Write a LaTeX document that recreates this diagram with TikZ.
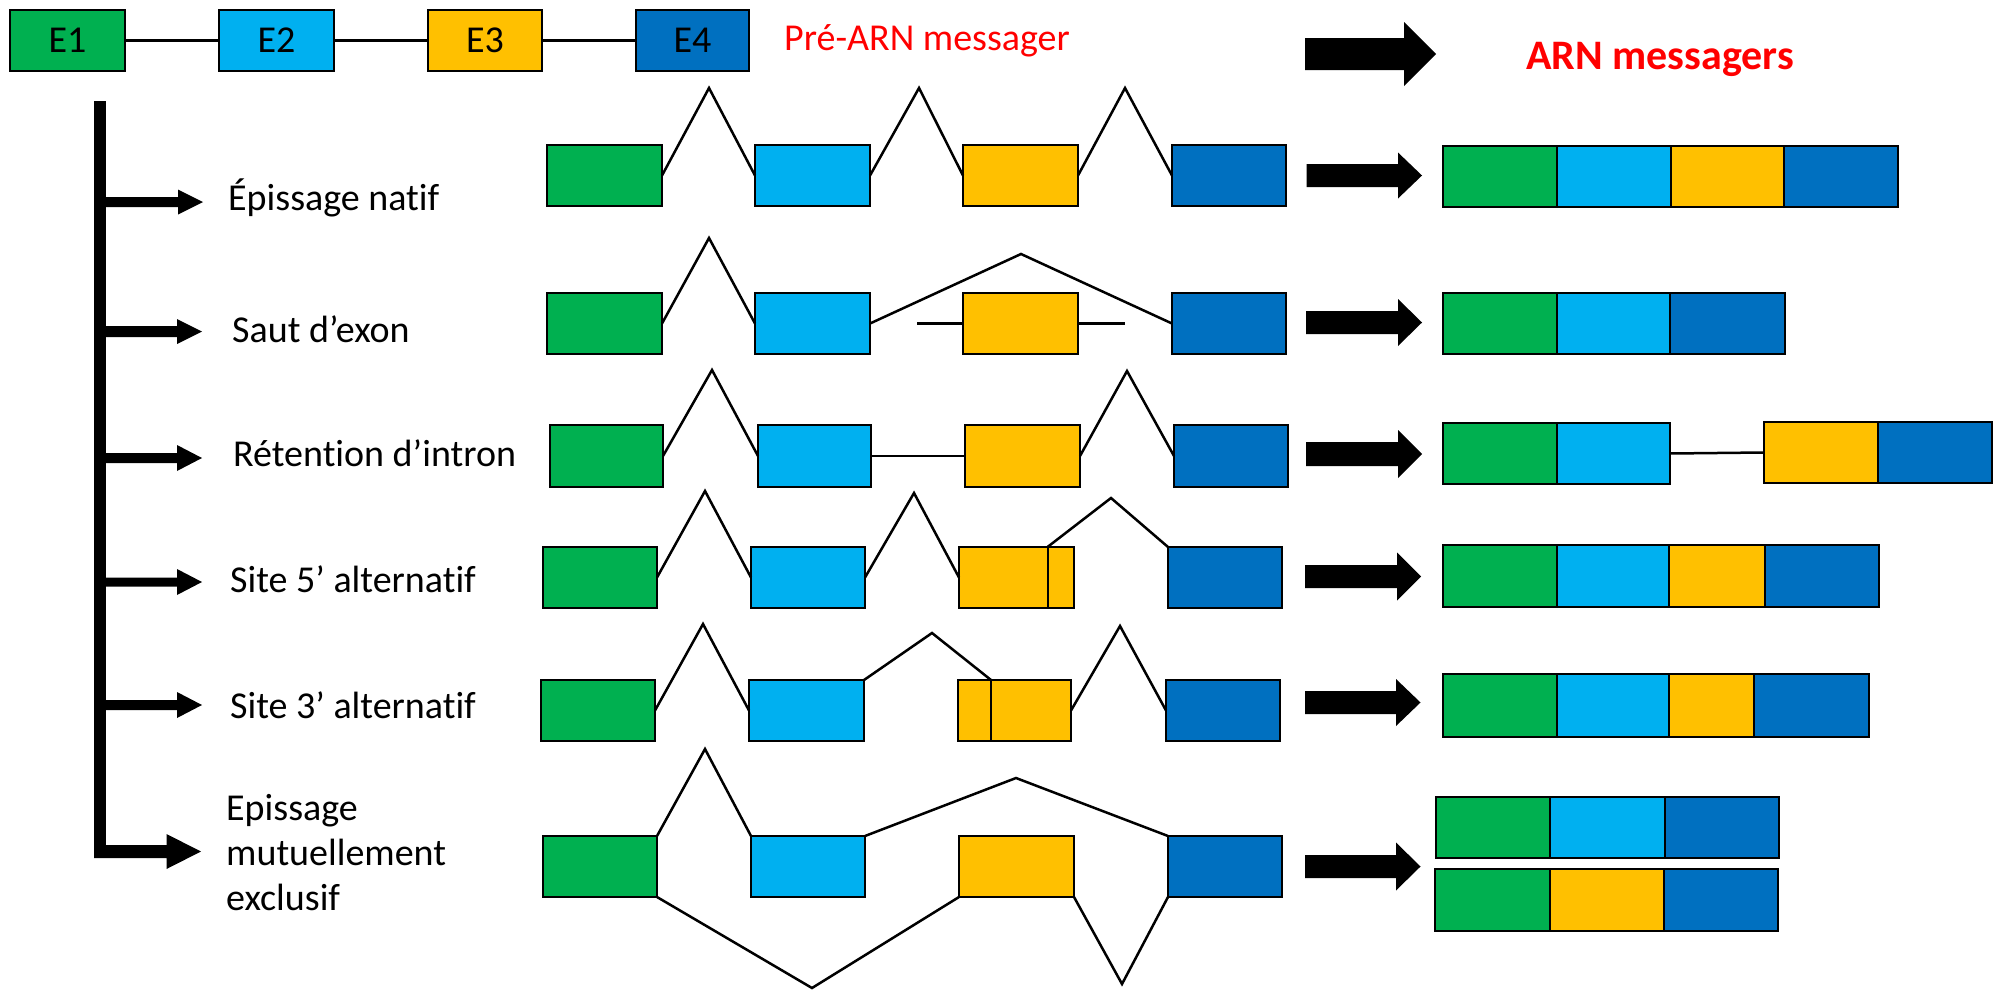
\documentclass[tikz,border=0pt]{standalone}
\usepackage{fontspec}
\setmainfont{Carlito}[Ligatures=NoCommon]
\definecolor{cgreen}{HTML}{00B050}
\definecolor{clight}{HTML}{00B0F0}
\definecolor{cyellow}{HTML}{FFC000}
\definecolor{cdblue}{HTML}{0070C0}
\definecolor{cred}{HTML}{FF0000}
\newcommand\exonbox[6]{\node[exon,fill=#2,minimum width={#5-#3},minimum height={#6-#4}] (#1) at ({(#3+#5)/2},{(#4+#6)/2}) {};}
\newcommand\blockarrow[6]{\fill (#1,{#4-#5}) -- (#2,{#4-#5}) -- (#2,{#4-#6}) -- (#3,#4) -- (#2,{#4+#6}) -- (#2,{#4+#5}) -- (#1,{#4+#5}) -- cycle;}
\begin{document}
\begin{tikzpicture}[x=1pt,y=-1pt,
  exon/.style={draw=black,line width=2pt,inner sep=0pt,outer sep=0pt},
  intron/.style={line width=2.5pt,line join=miter},
  lbl/.style={font=\fontsize{38}{45}\selectfont,inner sep=0pt,anchor=base west},
  etxt/.style={font=\fontsize{38}{45}\selectfont}]
\useasboundingbox[fill=white] (0,0) rectangle (1999,993);

% top pre-mRNA
\node[exon,etxt,fill=cgreen,minimum width=115,minimum height=61] (E1) at (67.5,40.5) {E1};
\node[exon,etxt,fill=clight,minimum width=115,minimum height=61] (E2) at (276.5,40.5) {E2};
\node[exon,etxt,fill=cyellow,minimum width=114,minimum height=61] (E3) at (485,40.5) {E3};
\node[exon,etxt,fill=cdblue,minimum width=113,minimum height=61] (E4) at (692.5,40.5) {E4};
\draw[line width=3pt] (E1.east) -- (E2.west) (E2.east) -- (E3.west) (E3.east) -- (E4.west);
\node[lbl,text=cred] (pre) at (784,50) {Pré-ARN messager};
\node[lbl,text=cred,font=\fontsize{42}{50}\selectfont\bfseries] (arn) at (1526,69) {ARN messagers};
\blockarrow{1305}{1404}{1436}{54}{16}{32}

% left bar and branch arrows
\fill (94,101) rectangle (106,858);
\blockarrow{100}{178}{203}{202}{5}{12.5}
\blockarrow{100}{177}{202}{331.5}{5.5}{12.5}
\blockarrow{100}{177}{202}{458}{5}{13}
\blockarrow{100}{177}{202}{582}{4.5}{13}
\blockarrow{100}{177}{202}{705}{5}{13}
\blockarrow{94}{166.5}{201}{851.5}{6.5}{17.5}

\node[lbl] (l1) at (228,210) {Épissage natif};
\node[lbl] (l2) at (232,342) {Saut d’exon};
\node[lbl] (l3) at (233,466) {Rétention d’intron};
\node[lbl] (l4) at (230,592) {Site 5’ alternatif};
\node[lbl] (l5) at (230,718) {Site 3’ alternatif};
\node[lbl,align=left] (l6) at (226,910) {Epissage\\mutuellement\\exclusif};

% row 1
\exonbox{r1g}{cgreen}{547}{145}{662}{206}
\exonbox{r1b}{clight}{755}{145}{870}{206}
\exonbox{r1y}{cyellow}{963}{145}{1078}{206}
\exonbox{r1d}{cdblue}{1172}{145}{1286}{206}
\draw[intron] (r1g.east) -- (709,88) -- (r1b.west);
\draw[intron] (r1b.east) -- (919,88) -- (r1y.west);
\draw[intron] (r1y.east) -- (1125,88) -- (r1d.west);

% row 2
\exonbox{r2g}{cgreen}{547}{293}{662}{354}
\exonbox{r2b}{clight}{755}{293}{870}{354}
\exonbox{r2y}{cyellow}{963}{293}{1078}{354}
\exonbox{r2d}{cdblue}{1172}{293}{1286}{354}
\coordinate (s2a) at (917,323.5);
\coordinate (s2b) at (1125,323.5);
\draw[intron] (r2g.east) -- (709,238) -- (r2b.west);
\draw[intron] (r2b.east) -- (1021,254) -- (r2d.west);
\draw[intron] (s2a) -- (r2y.west) (r2y.east) -- (s2b);

% row 3
\exonbox{r3g}{cgreen}{549.5}{425}{663}{487}
\exonbox{r3b}{clight}{758}{425}{871}{487}
\exonbox{r3y}{cyellow}{965}{425}{1080}{487}
\exonbox{r3d}{cdblue}{1174}{425}{1288}{487}
\draw[intron] (r3g.east) -- (712,370) -- (r3b.west);
\draw[intron] (r3b.east) -- (r3y.west);
\draw[intron] (r3y.east) -- (1127,371) -- (r3d.west);

% row 4
\exonbox{r4g}{cgreen}{543}{547}{657}{608}
\exonbox{r4b}{clight}{751}{547}{865}{608}
\exonbox{r4y}{cyellow}{959}{547}{1047.5}{608}
\exonbox{r4ya}{cyellow}{1047.5}{547}{1074}{608}
\exonbox{r4d}{cdblue}{1168}{547}{1282}{608}
\draw[intron] (r4g.east) -- (705,491) -- (r4b.west);
\draw[intron] (r4b.east) -- (914,493) -- (r4y.west);
\draw[intron] (r4ya.north west) -- (1111,498) -- (r4d.north west);

% row 5
\exonbox{r5g}{cgreen}{541}{680}{655}{741}
\exonbox{r5b}{clight}{749}{680}{864}{741}
\exonbox{r5ya}{cyellow}{958}{680}{991}{741}
\exonbox{r5y}{cyellow}{991}{680}{1071}{741}
\exonbox{r5d}{cdblue}{1166}{680}{1280}{741}
\draw[intron] (r5g.east) -- (703,624) -- (r5b.west);
\draw[intron] (r5b.north east) -- (932,633) -- (r5y.north west);
\draw[intron] (r5y.east) -- (1120,626) -- (r5d.west);

% row 6
\exonbox{r6g}{cgreen}{543}{836}{657}{897}
\exonbox{r6b}{clight}{751}{836}{865}{897}
\exonbox{r6y}{cyellow}{959}{836}{1074}{897}
\exonbox{r6d}{cdblue}{1168}{836}{1282}{897}
\draw[intron] (r6g.north east) -- (705,749) -- (r6b.north west);
\draw[intron] (r6b.north east) -- (1016,778) -- (r6d.north west);
\draw[intron] (r6g.south east) -- (812,988) -- (r6y.south west);
\draw[intron] (r6y.south east) -- (1122,984) -- (r6d.south west);

% right arrows
\blockarrow{1306.5}{1398}{1422}{175.5}{11.5}{23}
\blockarrow{1306}{1398}{1422}{322.5}{11.5}{23.5}
\blockarrow{1306}{1398}{1422}{454}{12}{24}
\blockarrow{1305}{1397}{1421}{576.5}{11.5}{24}
\blockarrow{1305}{1396}{1420.5}{702.5}{11.5}{23.5}
\blockarrow{1305}{1396}{1420.5}{866.5}{11.5}{24}

% mRNAs
\exonbox{m1g}{cgreen}{1443}{146}{1557}{207}
\exonbox{m1b}{clight}{1557}{146}{1671}{207}
\exonbox{m1y}{cyellow}{1671}{146}{1784}{207}
\exonbox{m1d}{cdblue}{1784}{146}{1898}{207}

\exonbox{m2g}{cgreen}{1442.5}{293}{1557}{354}
\exonbox{m2b}{clight}{1557}{293}{1670}{354}
\exonbox{m2d}{cdblue}{1670}{293}{1785}{354}

\exonbox{m3g}{cgreen}{1442.5}{423}{1557}{484}
\exonbox{m3b}{clight}{1557}{423}{1670}{484}
\exonbox{m3y}{cyellow}{1763.5}{422}{1878}{483}
\exonbox{m3d}{cdblue}{1878}{422}{1992}{483}
\draw[intron] (m3b.east) -- (m3y.west);

\exonbox{m4g}{cgreen}{1442.5}{545}{1557}{607}
\exonbox{m4b}{clight}{1557}{545}{1669}{607}
\exonbox{m4y}{cyellow}{1669}{545}{1765}{607}
\exonbox{m4d}{cdblue}{1765}{545}{1879}{607}

\exonbox{m5g}{cgreen}{1442.5}{674}{1557}{737}
\exonbox{m5b}{clight}{1557}{674}{1669}{737}
\exonbox{m5y}{cyellow}{1669}{674}{1754}{737}
\exonbox{m5d}{cdblue}{1754}{674}{1869}{737}

\exonbox{m6g}{cgreen}{1436}{797}{1550}{858}
\exonbox{m6b}{clight}{1550}{797}{1665}{858}
\exonbox{m6d}{cdblue}{1665}{797}{1779}{858}

\exonbox{m7g}{cgreen}{1435}{869}{1550}{931}
\exonbox{m7y}{cyellow}{1550}{869}{1664}{931}
\exonbox{m7d}{cdblue}{1664}{869}{1778}{931}
\end{tikzpicture}
\end{document}
